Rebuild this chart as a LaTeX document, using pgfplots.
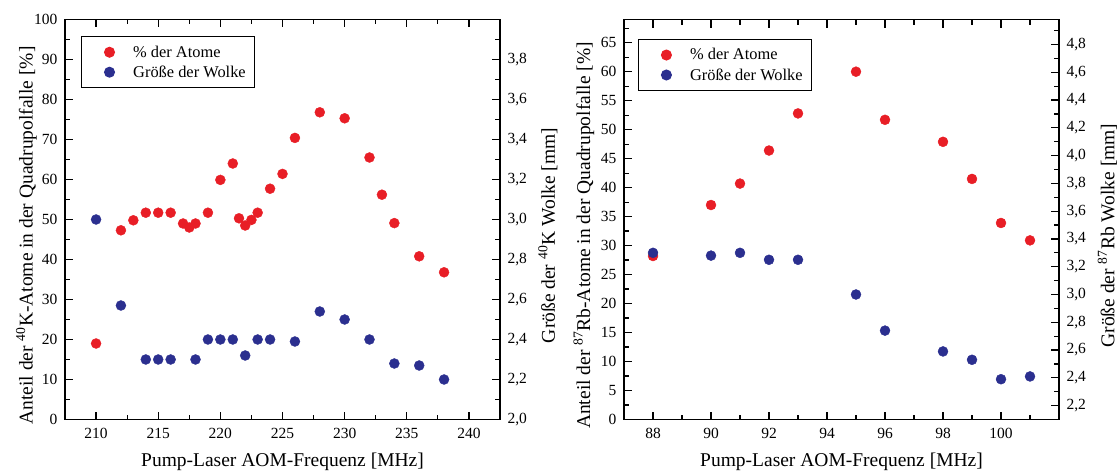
\documentclass[border=0pt]{standalone}
\usepackage{fontspec}
\setmainfont{Liberation Serif}
\usepackage{pgfplots}
\pgfplotsset{compat=1.18}
\definecolor{pred}{RGB}{232,30,38}
\definecolor{pblue}{RGB}{43,47,143}
\newcommand{\tickfont}{\fontsize{15.5}{18}\selectfont}
\newcommand{\labfont}{\fontsize{19.5}{23}\selectfont}
\newcommand{\legfont}{\fontsize{16.4}{19}\selectfont}
\pgfplotsset{
 base/.style={scale only axis, width=435pt, height=400pt, anchor=south west,
   /pgf/number format/assume math mode=true,
   tick label style={font=\tickfont},
   xticklabel style={yshift=-5pt},
   label style={font=\labfont},
   axis line style={line width=1.6pt},
   major tick length=8pt, minor tick length=5pt,
   every tick/.style={line width=1.2pt, black},
   tick align=inside,
 },
 commay/.style={yticklabel style={xshift=4pt, /pgf/number format/.cd, use comma, fixed, fixed zerofill, precision=1}},
 leg/.style={legend style={draw=black, line width=1pt, font=\legfont, inner xsep=9pt, inner ysep=9pt, row sep=7pt,
    nodes={inner sep=0pt}, cells={anchor=west}},
    legend image code/.code={\path[draw=none,fill=none] (0pt,-5pt) rectangle (42.7pt,5pt); \draw[##1] plot coordinates {(19pt,0pt)};}},
 rmark/.style={only marks, mark=*, mark size=5pt, color=pred, mark options={draw=pred, fill=pred}},
 bmark/.style={only marks, mark=*, mark size=5pt, color=pblue, mark options={draw=pblue, fill=pblue}},
}
\begin{document}
\begin{tikzpicture}
\useasboundingbox (0,0) rectangle (1118pt,471pt);
% ---------------- left plot -----------------
\begin{axis}[base, at={(65pt,51.5pt)},
  xmin=207.5, xmax=242.5, ymin=0, ymax=100,
  xtick={210,215,220,225,230,235,240}, minor xtick={212.5,217.5,222.5,227.5,232.5,237.5},
  ytick={0,10,20,30,40,50,60,70,80,90,100}, minor ytick={5,15,25,35,45,55,65,75,85,95},
  yticklabel style={xshift=-4pt},
  ytick pos=left, xtick pos=both, xticklabel pos=bottom,
  xlabel={Pump-Laser AOM-Frequenz [MHz]},
  xlabel style={at={(axis description cs:0.5,-0.1055)}, anchor=center},
  ylabel={Anteil der \textsuperscript{40}K-Atome in der Quadrupolfalle [\%]},
  ylabel style={at={(axis description cs:-0.0885,0.46)}, anchor=center},
]
\addplot[rmark] coordinates {(210,19.0)(212,47.3)(213,49.8)(214,51.7)(215,51.7)(216,51.7)(217,49.0)(217.5,48.0)(218,49.0)(219,51.7)(220,59.9)(221,64.0)(221.5,50.3)(222,48.5)(222.5,49.9)(223,51.7)(224,57.7)(225,61.4)(226,70.4)(228,76.8)(230,75.3)(232,65.5)(233,56.2)(234,49.1)(236,40.8)(238,36.8)};
\end{axis}
\begin{axis}[base, at={(65pt,51.5pt)}, commay, leg,
  xmin=207.5, xmax=242.5, ymin=2, ymax=4,
  hide x axis, axis y line*=right, ytick pos=right, tick align=inside,
  ytick={2.0,2.2,2.4,2.6,2.8,3.0,3.2,3.4,3.6,3.8}, minor ytick={2.1,2.3,2.5,2.7,2.9,3.1,3.3,3.5,3.7,3.9},
  ylabel={Größe der \textsuperscript{40}K Wolke [mm]},
  ylabel style={at={(axis description cs:1.110,0.46)}, anchor=center},
  legend style={at={(axis description cs:0.0368,0.958)}, anchor=north west},
]
\addlegendimage{rmark}
\addlegendentry{\% der Atome}
\addplot[bmark] coordinates {(210,3.00)(212,2.57)(214,2.30)(215,2.30)(216,2.30)(218,2.30)(219,2.40)(220,2.40)(221,2.40)(222,2.32)(223,2.40)(224,2.40)(226,2.39)(228,2.54)(230,2.50)(232,2.40)(234,2.28)(236,2.27)(238,2.20)};
\addlegendentry{Größe der Wolke}
\end{axis}
% ---------------- right plot -----------------
\begin{axis}[base, at={(624pt,51.5pt)},
  xmin=87, xmax=102, ymin=0, ymax=69,
  xtick={88,90,92,94,96,98,100}, minor xtick={89,91,93,95,97,99,101},
  ytick={0,5,10,15,20,25,30,35,40,45,50,55,60,65}, minor ytick={2.5,7.5,12.5,17.5,22.5,27.5,32.5,37.5,42.5,47.5,52.5,57.5,62.5,67.5},
  yticklabel style={xshift=-4pt},
  ytick pos=left, xtick pos=both, xticklabel pos=bottom,
  xlabel={Pump-Laser AOM-Frequenz [MHz]},
  xlabel style={at={(axis description cs:0.5,-0.1055)}, anchor=center},
  ylabel={Anteil der \textsuperscript{87}Rb-Atome in der Quadrupolfalle [\%]},
  ylabel style={at={(axis description cs:-0.092,0.46)}, anchor=center},
]
\addplot[rmark] coordinates {(88,28.2)(90,37.0)(91,40.7)(92,46.4)(93,52.8)(95,60.0)(96,51.7)(98,47.9)(99,41.5)(100,33.9)(101,30.9)};
\end{axis}
\begin{axis}[base, at={(624pt,51.5pt)}, commay, leg,
  xmin=87, xmax=102, ymin=2.1, ymax=4.98,
  hide x axis, axis y line*=right, ytick pos=right, tick align=inside,
  ytick={2.2,2.4,2.6,2.8,3.0,3.2,3.4,3.6,3.8,4.0,4.2,4.4,4.6,4.8}, minor ytick={2.3,2.5,2.7,2.9,3.1,3.3,3.5,3.7,3.9,4.1,4.3,4.5,4.7,4.9},
  ylabel={Größe der \textsuperscript{87}Rb Wolke [mm]},
  ylabel style={at={(axis description cs:1.111,0.46)}, anchor=center},
  legend style={at={(axis description cs:0.032,0.951)}, anchor=north west},
]
\addlegendimage{rmark}
\addlegendentry{\% der Atome}
\addplot[bmark] coordinates {(88,3.30)(90,3.28)(91,3.30)(92,3.25)(93,3.25)(95,3.00)(96,2.74)(98,2.59)(99,2.53)(100,2.39)(101,2.41)};
\addlegendentry{Größe der Wolke}
\end{axis}
\end{tikzpicture}
\end{document}
